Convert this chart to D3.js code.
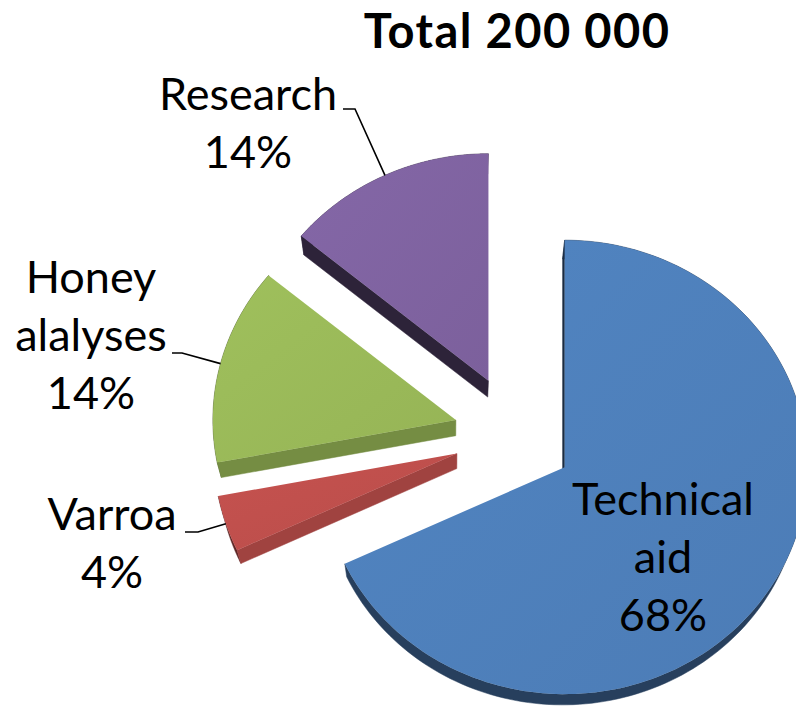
<!DOCTYPE html>
<html><head><meta charset="utf-8">
<script src="https://cdn.jsdelivr.net/npm/d3@7"></script>
<style>html,body{margin:0;padding:0;background:#fff;overflow:hidden} svg{display:block}</style>
</head><body><svg id="chart" width="796" height="712"></svg>
<script>
// ---- data ----
const categories = ["Technical aid", "Varroa", "Honey alalyses", "Research"];
const labelLines = [["Technical", "aid"], ["Varroa"], ["Honey", "alalyses"], ["Research"]];
const values = [68, 4, 14, 14];
const total = 200000;
const colors = ["#4F81BD", "#C0504D", "#9BBB59", "#8064A2"];

// ---- layout ----
const W = 796, H = 712;
const cx = 514, cy = 435, rx = 243, ry = 227, explode = 60;
const vp = {x: 450, y: 1290}, depthF = 0.018;
const labelFont = "Lato, 'Open Sans', sans-serif";
const labelSize = 45, lineGap = 58;
const labelLayout = [
  {x: 663, y: 515, lead: null},
  {x: 112, y: 530, lead: [[185, 532], [198, 532]]},
  {x: 91,  y: 293, lead: [[172, 353], [182, 353]]},
  {x: 248, y: 110, lead: [[343, 109], [355, 109]]}
];

const svg = d3.select("#chart");
const sx = d3.scaleLinear().domain([-1, 1]).range([-rx, rx]);
const sy = d3.scaleLinear().domain([-1, 1]).range([-ry, ry]);
const pct = d3.format(".0%");
const fmtTotal = d3.formatLocale({decimal: ".", thousands: " ", grouping: [3], currency: ["", ""]}).format(",");

const arcs = d3.pie().sort(null).value(d => d)(values);
const sum = d3.sum(values);

function tipOf(a) {
  const m = (a.startAngle + a.endAngle) / 2;
  return {x: cx + explode * Math.sin(m), y: cy - explode * Math.cos(m)};
}
function pt(t, ang, r = 1) {
  return {x: t.x + sx(r * Math.sin(ang)), y: t.y + sy(-r * Math.cos(ang))};
}
function down(p) {
  return {x: p.x + depthF * (vp.x - p.x), y: p.y + depthF * (vp.y - p.y)};
}
const line = d3.line().x(d => d.x).y(d => d.y);
const poly = pts => line(pts) + "Z";

const defs = svg.append("defs");
colors.forEach((c, i) => {
  const g = defs.append("linearGradient").attr("id", "g" + i)
    .attr("x1", 0).attr("y1", 0).attr("x2", 1).attr("y2", 1);
  g.append("stop").attr("offset", 0).attr("stop-color", d3.color(c).brighter(0.08));
  g.append("stop").attr("offset", 1).attr("stop-color", d3.color(c).darker(0.1));
});

const light = {x: 0.8, y: 0.6};
function shade(c, n) {
  const d = Math.max(0, n.x * light.x + n.y * light.y);
  const k = 0.35 + 0.55 * d;
  const col = d3.rgb(c);
  return d3.rgb(col.r * k, col.g * k, col.b * k);
}

const sides = svg.append("g");
const tops = svg.append("g");

arcs.forEach((a, i) => {
  const t = tipOf(a);
  const n = 160;
  const angs = d3.range(n + 1).map(j => a.startAngle + (a.endAngle - a.startAngle) * j / n);
  const arcPts = angs.map(g => pt(t, g));
  const td = down(t);
  const dv = {x: td.x - t.x, y: td.y - t.y};
  const base = colors[i];
  // outer wall
  sides.append("path")
    .attr("d", poly(arcPts.concat(arcPts.map(down).reverse())))
    .attr("fill", d3.color(base).darker(2)).attr("stroke", d3.color(base).darker(2)).attr("stroke-width", 0.5);
  // radial faces (only those turned towards the viewer)
  [[a.startAngle, -1], [a.endAngle, 1]].forEach(([g, s]) => {
    const nrm = {x: Math.sin(g + s * Math.PI / 2), y: -Math.cos(g + s * Math.PI / 2)};
    if (nrm.x * dv.x + nrm.y * dv.y <= 0) return;
    const p = pt(t, g);
    sides.append("path").attr("d", poly([t, p, down(p), td]))
      .attr("fill", shade(base, nrm)).attr("stroke", shade(base, nrm)).attr("stroke-width", 0.5);
  });
  // top face
  tops.append("path").attr("d", poly([t].concat(arcPts)))
    .attr("fill", `url(#g${i})`);
});

// title
svg.append("text").attr("x", 517).attr("y", 48).attr("text-anchor", "middle")
  .attr("font-family", labelFont).attr("font-weight", "bold").attr("font-size", 47)
  .attr("letter-spacing", 1.4)
  .attr("fill", "#000").text("Total " + fmtTotal(total));

// labels
const lab = svg.append("g").attr("font-family", labelFont).attr("font-size", labelSize).attr("fill", "#000");
arcs.forEach((a, i) => {
  const L = labelLayout[i];
  const lines = labelLines[i].concat([pct(values[i] / sum)]);
  const txt = lab.append("text").attr("text-anchor", "middle");
  lines.forEach((s, k) => txt.append("tspan").attr("x", L.x).attr("y", L.y + k * lineGap).text(s));
  if (L.lead) {
    const t = tipOf(a);
    const m = (a.startAngle + a.endAngle) / 2;
    const e = pt(t, m);
    svg.append("path").attr("d", line(L.lead.map(p => ({x: p[0], y: p[1]})).concat([e])))
      .attr("fill", "none").attr("stroke", "#000").attr("stroke-width", 1.6);
  }
});
</script></body></html>
